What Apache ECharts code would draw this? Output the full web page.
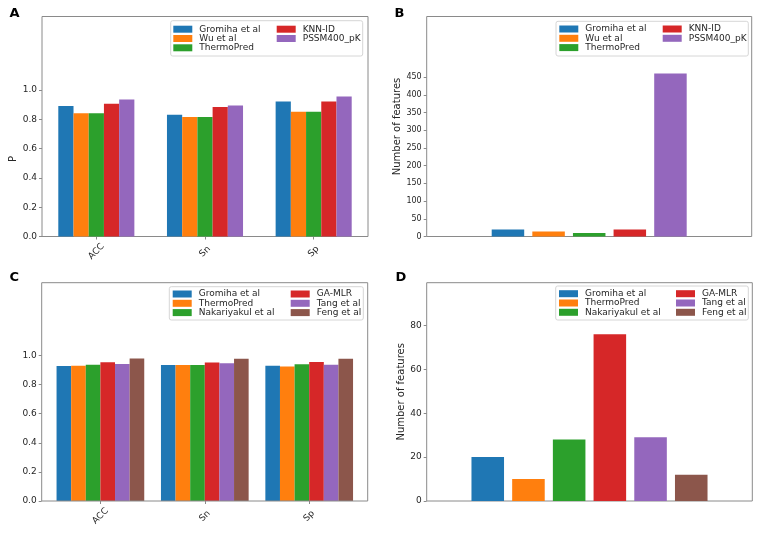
<!DOCTYPE html>
<html>
<head>
<meta charset="utf-8">
<script src="https://cdn.jsdelivr.net/npm/echarts/dist/echarts.min.js"></script>
<style>
  html, body { margin: 0; padding: 0; background: #fff; }
  #chart { width: 760px; height: 533px; }
</style>
</head>
<body>
<div id="chart"></div>
<script>
// ---------- data ----------
const metricCats = ['ACC', 'Sn', 'Sp'];

const methodsA = ['Gromiha et al', 'Wu et al', 'ThermoPred', 'KNN-ID', 'PSSM400_pK'];
const gromihaA = [0.89, 0.83, 0.92];
const wuA = [0.84, 0.815, 0.85];
const thermoPredA = [0.84, 0.815, 0.85];
const knnIdA = [0.905, 0.883, 0.92];
const pssm400A = [0.934, 0.893, 0.954];

const featuresB = [20, 14, 10, 20, 460];

const methodsC = ['Gromiha et al', 'ThermoPred', 'Nakariyakul et al', 'GA-MLR', 'Tang et al', 'Feng et al'];
const gromihaC = [0.927, 0.935, 0.93];
const thermoPredC = [0.929, 0.935, 0.924];
const nakariyakulC = [0.936, 0.935, 0.939];
const gaMlrC = [0.953, 0.951, 0.955];
const tangC = [0.941, 0.946, 0.937];
const fengC = [0.979, 0.978, 0.978];

const featuresD = [20, 10, 28, 76, 29, 12];

const ticksP = [0, 0.2, 0.4, 0.6, 0.8, 1.0];
const ticksB = [0, 50, 100, 150, 200, 250, 300, 350, 400, 450];
const ticksD = [0, 20, 40, 60, 80];

const colorsA = ['#1f77b4', '#ff7f0e', '#2ca02c', '#d62728', '#9467bd'];
const colorsC = ['#1f77b4', '#ff7f0e', '#2ca02c', '#d62728', '#9467bd', '#8c564b'];

// ---------- styling ----------
const FONT = 'DejaVu Sans';
const TXT = '#262626';
const SPINE = '#8a8a8a';

function legendCol(names, colors, left, top) {
  return {
    orient: 'vertical', left: left, top: top, padding: 0,
    itemWidth: 19, itemHeight: 7, itemGap: 0.3, icon: 'rect',
    selectedMode: false,
    textStyle: { fontSize: 9, lineHeight: 9, color: TXT, fontFamily: FONT, padding: [0, 0, 0, 2] },
    data: names.map((n, i) => ({ name: n, itemStyle: { color: colors[i] } }))
  };
}

function frame(x, y, w, h) {
  return { type: 'rect', z: 5, silent: true,
    shape: { x: x, y: y, width: w, height: h },
    style: { fill: 'none', stroke: SPINE, lineWidth: 1 } };
}
function legendBox(x1, y1, x2, y2) {
  return { type: 'rect', z: 3, silent: true,
    shape: { x: x1, y: y1, width: x2 - x1, height: y2 - y1, r: 2 },
    style: { fill: 'rgba(255,255,255,0.9)', stroke: '#d6d6d6', lineWidth: 1 } };
}
function letter(t, x, y) {
  return { type: 'text', z: 6, x: x, y: y,
    style: { text: t, font: 'bold 13px "DejaVu Sans"', fill: '#000', textVerticalAlign: 'top' } };
}

function valueAxis(gridIndex, max, ticks, fmt, fs, extra) {
  return Object.assign({
    type: 'value', gridIndex: gridIndex, min: 0, max: max,
    splitLine: { show: false },
    axisLine: { show: false },
    axisTick: { show: true, length: 3, customValues: ticks, lineStyle: { color: SPINE } },
    axisLabel: { customValues: ticks, formatter: fmt, fontSize: fs, color: TXT, fontFamily: FONT, margin: 5 }
  }, extra || {});
}

function metricXAxis(gridIndex) {
  return {
    type: 'category', gridIndex: gridIndex, data: metricCats, boundaryGap: true,
    axisLine: { show: false },
    axisTick: { show: true, alignWithLabel: true, length: 3, lineStyle: { color: SPINE } },
    axisLabel: { rotate: 45, align: 'center', verticalAlign: 'middle', margin: 15,
      fontSize: 9, color: TXT, fontFamily: FONT, interval: 0 }
  };
}

function blankXAxis(gridIndex, n, onBand) {
  return {
    type: 'category', gridIndex: gridIndex, data: new Array(n).fill(''), boundaryGap: onBand,
    axisLine: { show: false }, axisTick: { show: false }, axisLabel: { show: false }
  };
}

const seriesList = [];
// Panel A
[gromihaA, wuA, thermoPredA, knnIdA, pssm400A].forEach((vals, i) => {
  seriesList.push({ type: 'bar', name: methodsA[i], xAxisIndex: 0, yAxisIndex: 0,
    data: vals, barGap: '0%', barCategoryGap: '30%',
    itemStyle: { color: colorsA[i] } });
});
// Panel B
featuresB.forEach((v, i) => {
  const d = new Array(9).fill(null); d[2 + i] = v;
  seriesList.push({ type: 'bar', name: methodsA[i], xAxisIndex: 1, yAxisIndex: 1,
    data: d, barGap: '-100%', barWidth: '80%', itemStyle: { color: colorsA[i] } });
});
// Panel C
[gromihaC, thermoPredC, nakariyakulC, gaMlrC, tangC, fengC].forEach((vals, i) => {
  seriesList.push({ type: 'bar', name: methodsC[i], xAxisIndex: 2, yAxisIndex: 2,
    data: vals, barGap: '0%', barCategoryGap: '16%',
    itemStyle: { color: colorsC[i] } });
});
// Panel D
featuresD.forEach((v, i) => {
  const d = new Array(8).fill(null); d[1 + i] = v;
  seriesList.push({ type: 'bar', name: methodsC[i], xAxisIndex: 3, yAxisIndex: 3,
    data: d, barGap: '-100%', barWidth: '80%', itemStyle: { color: colorsC[i] } });
});

const option = {
  animation: false,
  backgroundColor: '#fff',
  textStyle: { fontFamily: FONT },
  grid: [
    { left: 42, top: 16.5, width: 326, height: 220, show: true, borderColor: SPINE, borderWidth: 1, backgroundColor: 'transparent' },
    { left: 426.7, top: 16.5, width: 325, height: 220, show: true, borderColor: SPINE, borderWidth: 1, backgroundColor: 'transparent' },
    { left: 48.2, top: 282.7, width: 313.2, height: 218.3, show: false },
    { left: 426.7, top: 282.7, width: 325.6, height: 218.3, show: true, borderColor: SPINE, borderWidth: 1, backgroundColor: 'transparent' }
  ],
  xAxis: [
    metricXAxis(0),
    blankXAxis(1, 9, false),
    metricXAxis(2),
    blankXAxis(3, 8, true)
  ],
  yAxis: [
    valueAxis(0, 1.5, ticksP, v => v.toFixed(1), 9),
    valueAxis(1, 621, ticksB, v => String(v), 8, {
      name: 'Number of features', nameLocation: 'middle', nameGap: 22.5,
      nameTextStyle: { fontSize: 10, color: TXT, fontFamily: FONT } }),
    valueAxis(2, 1.5, ticksP, v => v.toFixed(1), 9, { offset: 6.5 }),
    valueAxis(3, 99.5, ticksD, v => String(v), 9, {
      name: 'Number of features', nameLocation: 'middle', nameGap: 18.5,
      nameTextStyle: { fontSize: 10, color: TXT, fontFamily: FONT } })
  ],
  legend: [
    legendCol(methodsA.slice(0, 3), colorsA.slice(0, 3), 173.3, 24.7),
    legendCol(methodsA.slice(3), colorsA.slice(3), 276.7, 24.7),
    legendCol(methodsA.slice(0, 3), colorsA.slice(0, 3), 559.3, 24.5),
    legendCol(methodsA.slice(3), colorsA.slice(3), 662.7, 24.5),
    legendCol(methodsC.slice(0, 3), colorsC.slice(0, 3), 172.7, 289.5),
    legendCol(methodsC.slice(3), colorsC.slice(3), 290.7, 289.5),
    legendCol(methodsC.slice(0, 3), colorsC.slice(0, 3), 559, 289.2),
    legendCol(methodsC.slice(3), colorsC.slice(3), 676, 289.2)
  ],
  graphic: [
    frame(41.7, 282.7, 326, 218.3),
    legendBox(170.7, 20.7, 362.7, 56),
    legendBox(556, 21.3, 748.3, 56),
    legendBox(169.3, 286.7, 363.3, 320),
    legendBox(555.7, 286, 748.3, 320),
    letter('A', 9.5, 7),
    letter('B', 394.5, 7),
    letter('C', 9.5, 271.5),
    letter('D', 395.5, 271.5),
    { type: 'text', z: 6, x: 13, y: 159, rotation: Math.PI / 2,
      style: { text: 'P', font: '10px "DejaVu Sans"', fill: TXT, textAlign: 'center', textVerticalAlign: 'middle' } }
  ],
  series: seriesList
};

const chart = echarts.init(document.getElementById('chart'), null, { renderer: 'canvas' });
chart.setOption(option);
</script>
</body>
</html>
